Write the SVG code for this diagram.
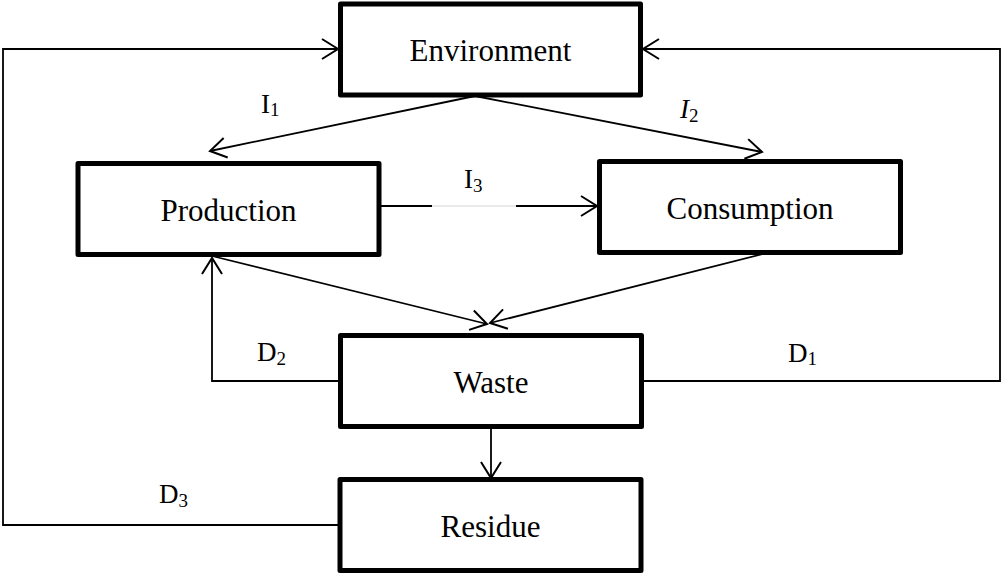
<svg xmlns="http://www.w3.org/2000/svg" width="1002" height="573" viewBox="0 0 1002 573">
  <defs>
    <marker id="open-arrow" markerUnits="userSpaceOnUse" markerWidth="40" markerHeight="40" refX="0" refY="0" viewBox="-20 -20 40 40" orient="auto" overflow="visible">
      <path d="M -16 -10 L 0 0 L -16 10" fill="none" stroke="#000" stroke-width="2"/>
    </marker>
  </defs>
  <style>
    .box { fill: #fff; stroke: #000; stroke-width: 5; stroke-linejoin: round; }
    text { font-family: "Liberation Serif", "Times New Roman", Times, serif; fill: #000; }
    .name { font-size: 31px; text-anchor: middle; }
    .lbl { font-size: 27px; }
    .sub { font-size: 19px; }
    .wire { fill: none; stroke: #000; stroke-width: 1.8; }
    .arrow { marker-end: url(#open-arrow); }
  </style>
  <rect width="1002" height="573" fill="#fff"/>

  <!-- connectors -->
  <g id="connectors">
    <!-- D3: residue back to environment (left loop) -->
    <polyline class="wire arrow" points="340,525 3,525 3,49 338,49"/>
    <!-- D1: waste back to environment (right loop) -->
    <polyline class="wire arrow" points="642,381 1000,381 1000,49 643,49"/>
    <!-- I1, I2: environment to production / consumption -->
    <line class="wire arrow" x1="475" y1="96" x2="210" y2="151"/>
    <line class="wire arrow" x1="475" y1="96" x2="762" y2="152"/>
    <!-- I3: production to consumption -->
    <line class="wire" x1="381" y1="206" x2="432" y2="206"/>
    <line x1="432" y1="206" x2="516" y2="206" stroke="#d6d6d6" stroke-width="1.2"/>
    <line class="wire arrow" x1="516" y1="206" x2="597" y2="206"/>
    <!-- production / consumption to waste -->
    <line class="wire arrow" x1="212" y1="256" x2="487" y2="324"/>
    <line class="wire arrow" x1="763" y1="254" x2="490" y2="323"/>
    <!-- D2: waste back to production -->
    <polyline class="wire arrow" points="340,381 212,381 212,258"/>
    <!-- waste to residue -->
    <line class="wire arrow" x1="491" y1="428" x2="491" y2="478"/>
  </g>

  <!-- nodes -->
  <g id="environment">
    <rect class="box" x="340.5" y="4" width="300" height="91"/>
    <text class="name" x="490.5" y="61">Environment</text>
  </g>
  <g id="production">
    <rect class="box" x="78" y="163.5" width="301" height="91"/>
    <text class="name" x="228.5" y="221">Production</text>
  </g>
  <g id="consumption">
    <rect class="box" x="599.5" y="161.5" width="301" height="91"/>
    <text class="name" x="750" y="219">Consumption</text>
  </g>
  <g id="waste">
    <rect class="box" x="340.5" y="335.5" width="301" height="91"/>
    <text class="name" x="491" y="393">Waste</text>
  </g>
  <g id="residue">
    <rect class="box" x="340" y="479.5" width="301" height="91"/>
    <text class="name" x="490.5" y="537">Residue</text>
  </g>

  <!-- flow labels -->
  <g id="labels">
    <text class="lbl" x="261" y="113">I<tspan class="sub" dy="3">1</tspan></text>
    <text class="lbl" x="680" y="118"><tspan font-style="italic">I</tspan><tspan class="sub" dy="4">2</tspan></text>
    <text class="lbl" x="464" y="188">I<tspan class="sub" dy="4">3</tspan></text>
    <text class="lbl" x="257" y="361">D<tspan class="sub" dy="4">2</tspan></text>
    <text class="lbl" x="788" y="362">D<tspan class="sub" dy="3">1</tspan></text>
    <text class="lbl" x="159" y="503">D<tspan class="sub" dy="4">3</tspan></text>
  </g>
</svg>
